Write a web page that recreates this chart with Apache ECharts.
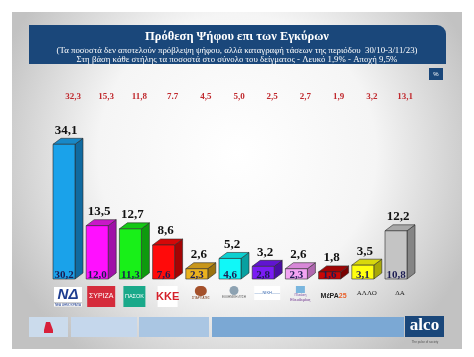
<!DOCTYPE html>
<html><head><meta charset="utf-8">
<script src="https://cdn.jsdelivr.net/npm/echarts@6/dist/echarts.min.js"></script>
<style>html,body{margin:0;padding:0;background:#fff}#c{width:474px;height:357px}</style>
</head><body><div id="c"></div>
<script>
// ---- data ----
const parties = ['ΝΔ','ΣΥΡΙΖΑ','ΠΑΣΟΚ','ΚΚΕ','Σπαρτιάτες','Ελληνική Λύση','Νίκη','Πλεύση Ελευθερίας','ΜέΡΑ25','ΑΛΛΟ','ΔΑ'];
const validVotes = [34.1,13.5,12.7,8.6,2.6,5.2,3.2,2.6,1.8,3.5,12.2];
const sampleVotes = [30.2,12.0,11.3,7.6,2.3,4.6,2.8,2.3,1.6,3.1,10.8];
const previousLabels = ['32,3','15,3','11,8','7.7','4,5','5,0','2,5','2,7','1,9','3,2','13,1'];
const titleText = 'Πρόθεση Ψήφου επι των Εγκύρων';
const subText = '(Τα ποσοστά δεν αποτελούν πρόβλεψη ψήφου, αλλά καταγραφή τάσεων της περιόδου  30/10-3/11/23)\nΣτη βάση κάθε στήλης τα ποσοστά στο σύνολο του δείγματος - Λευκό 1,9% - Αποχή 9,5%';

// ---- styles ----
const frontC = ['#1aa2ea','#ff10ff','#18f018','#ff0a0a','#eab21e','#10f8f8','#7a1cf4','#f3a4f3','#c80606','#ffff10','#c4c4c4'];
const topC   = ['#1888c8','#c818c8','#14c814','#d40808','#c8961a','#0cd0d0','#6014d0','#d888d8','#a00404','#d8d80c','#a8a8a8'];
const sideC  = ['#106aa0','#a010a8','#0e9a0e','#a40404','#9a720e','#08a0a0','#4a0ea4','#b068b0','#780202','#a8a808','#858585'];
const serif = '"Liberation Serif","DejaVu Serif",serif';
const fmt = v => v.toFixed(1).replace('.', ',');

function renderBar(params, api) {
  const i = api.value(0), v = api.value(1), inner = api.value(2);
  const p = api.coord([i, v]);
  const b = api.coord([i, 0]);
  const fl = p[0] - 15, fr = p[0] + 7, dx = 8, dy = 6;
  const top = p[1], bot = b[1];
  const k = params.dataIndex;
  const line = {stroke: '#2a2a2a', lineWidth: 0.6};
  return {type: 'group', children: [
    {type: 'polygon', shape: {points: [[fr, bot], [fr + dx, bot - dy], [fr + dx, top - dy], [fr, top]]},
      style: Object.assign({fill: sideC[k]}, line)},
    {type: 'polygon', shape: {points: [[fl, top], [fl + dx, top - dy], [fr + dx, top - dy], [fr, top]]},
      style: Object.assign({fill: topC[k]}, line)},
    {type: 'rect', shape: {x: fl, y: top, width: fr - fl, height: bot - top},
      style: Object.assign({fill: frontC[k]}, line)},
    {type: 'text', style: {text: fmt(v), x: p[0] - 2, y: top - 14, align: 'center', verticalAlign: 'middle',
      font: 'bold 13px ' + serif, fill: '#111'}},
    {type: 'text', style: {text: fmt(inner), x: (fl + fr) / 2, y: bot - 4, align: 'center', verticalAlign: 'middle',
      font: 'bold 11px ' + serif, fill: '#1c1c52'}}
  ]};
}

const logoFmt = [
  '{nd|ΝΔ}\n{ndS|ΝΕΑ ΔΗΜΟΚΡΑΤΙΑ}',
  '{sy|ΣΥΡΙΖΑ}',
  '{pa|ΠΑΣΟΚ}',
  '{kk|ΚΚΕ}',
  '{spI|}\n{sp|ΣΠΑΡΤΙΑΤΕΣ}',
  '{elI|}\n{el|ΕΛΛΗΝΙΚΗ ΛΥΣΗ}',
  '{nk|——ΝΙΚΗ——}',
  '{plI|}\n{pl|Πλεύση}\n{pl2|Ελευθερίας}',
  '{me|ΜέΡΑ}{meO|25}',
  '{tx|ΑΛΛΟ}',
  '{tx|ΔΑ}'
];
const rich = {
  nd: {color: '#1d3c8f', fontSize: 15, fontWeight: 'bold', fontStyle: 'italic', fontFamily: 'Liberation Sans', backgroundColor: '#fff', width: 28, align: 'center', lineHeight: 17},
  ndS: {color: '#1d3c8f', fontSize: 3, backgroundColor: '#fff', width: 28, align: 'center', lineHeight: 4},
  sy: {color: '#fff', fontSize: 7, backgroundColor: '#d52b3b', width: 28, height: 21, lineHeight: 21, align: 'center', fontFamily: 'Liberation Sans'},
  pa: {color: '#fff', fontSize: 5.5, backgroundColor: '#1aa98a', width: 22, height: 21, lineHeight: 21, align: 'center', fontFamily: 'Liberation Sans'},
  kk: {color: '#d4202a', fontSize: 11, fontWeight: 'bold', backgroundColor: '#fff', width: 20, height: 21, lineHeight: 21, align: 'center', fontFamily: 'Liberation Sans'},
  spI: {backgroundColor: '#a4502a', width: 12, height: 10, borderRadius: 5, align: 'center'},
  sp: {color: '#7a3a1a', fontSize: 3, lineHeight: 5, align: 'center'},
  elI: {backgroundColor: '#8da2b2', width: 9, height: 9, borderRadius: 5, align: 'center'},
  el: {color: '#555', fontSize: 3, lineHeight: 5, align: 'center'},
  nk: {color: '#3a6ab0', fontSize: 4, backgroundColor: '#fff', width: 26, height: 14, lineHeight: 14, align: 'center'},
  plI: {backgroundColor: '#7ab6de', width: 9, height: 7, align: 'center'},
  pl: {color: '#7a4aa0', fontSize: 3.5, lineHeight: 4, align: 'center'},
  pl2: {color: '#6a2c8a', fontSize: 4, lineHeight: 5, align: 'center'},
  me: {color: '#222', fontSize: 7, fontWeight: 'bold', fontFamily: 'Liberation Sans', lineHeight: 20},
  meO: {color: '#e8602a', fontSize: 7, fontWeight: 'bold', fontFamily: 'Liberation Sans', lineHeight: 20},
  tx: {color: '#222', fontSize: 7, fontFamily: serif, lineHeight: 14}
};

const chart = echarts.init(document.getElementById('c'), null, {renderer: 'canvas'});
chart.setOption({
  backgroundColor: '#ffffff',
  animation: false,
  graphic: [
    {type: 'rect', z: 0, shape: {x: 12, y: 12, width: 450, height: 337},
      style: {fill: new echarts.graphic.RadialGradient(0.5, 0.42, 0.75, [
        {offset: 0, color: '#ffffff'}, {offset: 0.55, color: '#f5f5f5'}, {offset: 1, color: '#c2c2c2'}])}},
    {type: 'rect', z: 1, shape: {x: 29, y: 25, width: 417, height: 39, r: [0, 9, 0, 0]}, style: {fill: '#1a477a'}},
    {type: 'rect', z: 1, shape: {x: 429, y: 68, width: 14, height: 12}, style: {fill: '#1a477a'}},
    {type: 'text', z: 2, style: {text: '%', x: 436, y: 74, align: 'center', verticalAlign: 'middle', font: '6px "Liberation Sans"', fill: '#fff'}},
    {type: 'rect', z: 1, shape: {x: 29, y: 317, width: 39, height: 20}, style: {fill: '#cbdbec'}},
    {type: 'polygon', z: 2, shape: {points: [[44, 330], [46, 322], [50, 322], [53, 330]]}, style: {fill: '#d8203a'}},
    {type: 'rect', z: 2, shape: {x: 44, y: 330, width: 9, height: 3}, style: {fill: '#d8203a'}},
    {type: 'rect', z: 1, shape: {x: 71, y: 317, width: 66, height: 20}, style: {fill: '#c5d7ec'}},
    {type: 'rect', z: 1, shape: {x: 139, y: 317, width: 70, height: 20}, style: {fill: '#aac6e3'}},
    {type: 'rect', z: 1, shape: {x: 212, y: 317, width: 192, height: 20}, style: {fill: '#7ba8d4'}},
    {type: 'rect', z: 1, shape: {x: 405, y: 316, width: 39, height: 21}, style: {fill: '#1a477a'}},
    {type: 'text', z: 2, style: {text: 'alco', x: 424.5, y: 326, align: 'center', verticalAlign: 'middle', font: 'bold 17px ' + serif, fill: '#fff'}},
    {type: 'text', z: 2, style: {text: 'The pulse of society', x: 425, y: 342, align: 'center', verticalAlign: 'middle', font: '3px "Liberation Sans"', fill: '#555'}}
  ],
  title: {
    text: titleText, subtext: subText, left: 'center', top: 30, itemGap: 2, padding: 0,
    textStyle: {color: '#fff', fontFamily: serif, fontWeight: 'bold', fontSize: 12.5, lineHeight: 14},
    subtextStyle: {color: '#fff', fontFamily: serif, fontSize: 8.8, lineHeight: 9}
  },
  grid: {left: 51.4, right: 57.4, top: 121, bottom: 78},
  xAxis: [
    {type: 'category', data: parties, position: 'bottom',
      axisLine: {show: false}, axisTick: {show: false}, splitLine: {show: false},
      axisLabel: {interval: 0, margin: 7, formatter: (val, idx) => logoFmt[idx], rich: rich}},
    {type: 'category', data: previousLabels, position: 'top',
      axisLine: {show: false}, axisTick: {show: false}, splitLine: {show: false},
      axisLabel: {interval: 0, margin: 20, color: '#c0282d', fontWeight: 'bold', fontSize: 9, fontFamily: serif, padding: [0, 0, 0, 10]}}
  ],
  yAxis: {type: 'value', min: 0, max: 40, show: false, splitLine: {show: false}},
  series: [{
    type: 'custom', xAxisIndex: 0, renderItem: renderBar, encode: {x: 0, y: 1},
    data: validVotes.map((v, i) => [i, v, sampleVotes[i]]), clip: false
  }]
});
</script></body></html>
